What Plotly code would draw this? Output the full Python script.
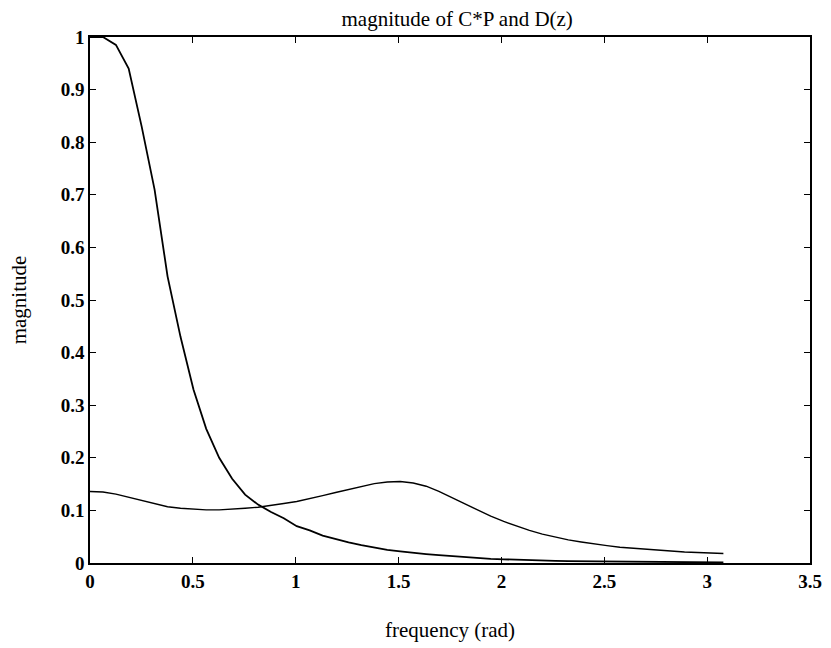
import plotly.graph_objects as go

# frequency grid (rad)
frequency = [0.000, 0.063, 0.126, 0.188, 0.251, 0.314, 0.377, 0.440, 0.503, 0.565,
             0.628, 0.691, 0.754, 0.817, 0.880, 0.942, 1.005, 1.068, 1.131, 1.194,
             1.257, 1.319, 1.382, 1.445, 1.508, 1.571, 1.634, 1.696, 1.759, 1.822,
             1.885, 1.948, 2.011, 2.073, 2.136, 2.199, 2.262, 2.325, 2.388, 2.450,
             2.513, 2.576, 2.639, 2.702, 2.765, 2.827, 2.890, 2.953, 3.016, 3.079]

# |C*P|
mag_cp = [1.000, 1.000, 0.985, 0.940, 0.830, 0.710, 0.545, 0.430, 0.330, 0.255,
          0.200, 0.160, 0.130, 0.111, 0.097, 0.085, 0.070, 0.062, 0.052, 0.045,
          0.039, 0.034, 0.029, 0.025, 0.022, 0.019, 0.017, 0.015, 0.013, 0.011,
          0.0095, 0.008, 0.007, 0.006, 0.005, 0.0045, 0.004, 0.0037, 0.0034, 0.0031,
          0.0028, 0.0026, 0.0024, 0.0022, 0.002, 0.0018, 0.0016, 0.0014, 0.0012, 0.001]

# |D(z)|
mag_d = [0.136, 0.135, 0.131, 0.125, 0.118, 0.112, 0.107, 0.104, 0.102, 0.101,
         0.101, 0.102, 0.104, 0.106, 0.109, 0.113, 0.117, 0.122, 0.128, 0.134,
         0.140, 0.146, 0.151, 0.154, 0.155, 0.152, 0.146, 0.136, 0.124, 0.112,
         0.100, 0.089, 0.079, 0.070, 0.062, 0.055, 0.049, 0.044, 0.040, 0.036,
         0.033, 0.030, 0.028, 0.026, 0.024, 0.022, 0.021, 0.020, 0.019, 0.018]

x_ticks = [0, 0.5, 1, 1.5, 2, 2.5, 3, 3.5]
x_tick_text = ["0", "0.5", "1", "1.5", "2", "2.5", "3", "3.5"]
y_ticks = [0, 0.1, 0.2, 0.3, 0.4, 0.5, 0.6, 0.7, 0.8, 0.9, 1]
y_tick_text = ["0", "0.1", "0.2", "0.3", "0.4", "0.5", "0.6", "0.7", "0.8", "0.9", "1"]

serif = "Liberation Serif, Times New Roman, serif"

fig = go.Figure()
fig.add_trace(go.Scatter(x=frequency, y=mag_cp, mode="lines",
                         line=dict(color="black", width=1.8), showlegend=False))
fig.add_trace(go.Scatter(x=frequency, y=mag_d, mode="lines",
                         line=dict(color="black", width=1.4), showlegend=False))

axis_common = dict(
    showgrid=False, zeroline=False, showline=True, linecolor="black", linewidth=1.5,
    mirror="ticks", ticks="inside", ticklen=6, tickwidth=1.2, tickcolor="black",
    automargin=False,
    tickfont=dict(family=serif, size=19, color="black", weight="bold"),
)

fig.update_layout(
    width=831, height=648,
    paper_bgcolor="white", plot_bgcolor="white",
    margin=dict(l=90, r=21, t=37, b=85),
    title=dict(text="magnitude of C*P and D(z)", x=0.51, xref="paper", xanchor="center",
               y=1 - 19 / 648, yref="container", yanchor="middle",
               font=dict(family=serif, size=21, color="black")),
    xaxis=dict(range=[0, 3.5], tickvals=x_ticks, ticktext=x_tick_text,
               title=dict(text="frequency (rad)", standoff=32,
                          font=dict(family=serif, size=21, color="black")),
               **axis_common),
    yaxis=dict(range=[0, 1], tickvals=y_ticks, ticktext=y_tick_text,
               title=dict(text="magnitude", standoff=28,
                          font=dict(family=serif, size=21, color="black")),
               **axis_common),
)

fig.write_html("out.html",
               config={"displayModeBar": False},
               post_script="document.body.style.margin='0';document.body.style.overflow='hidden';")
